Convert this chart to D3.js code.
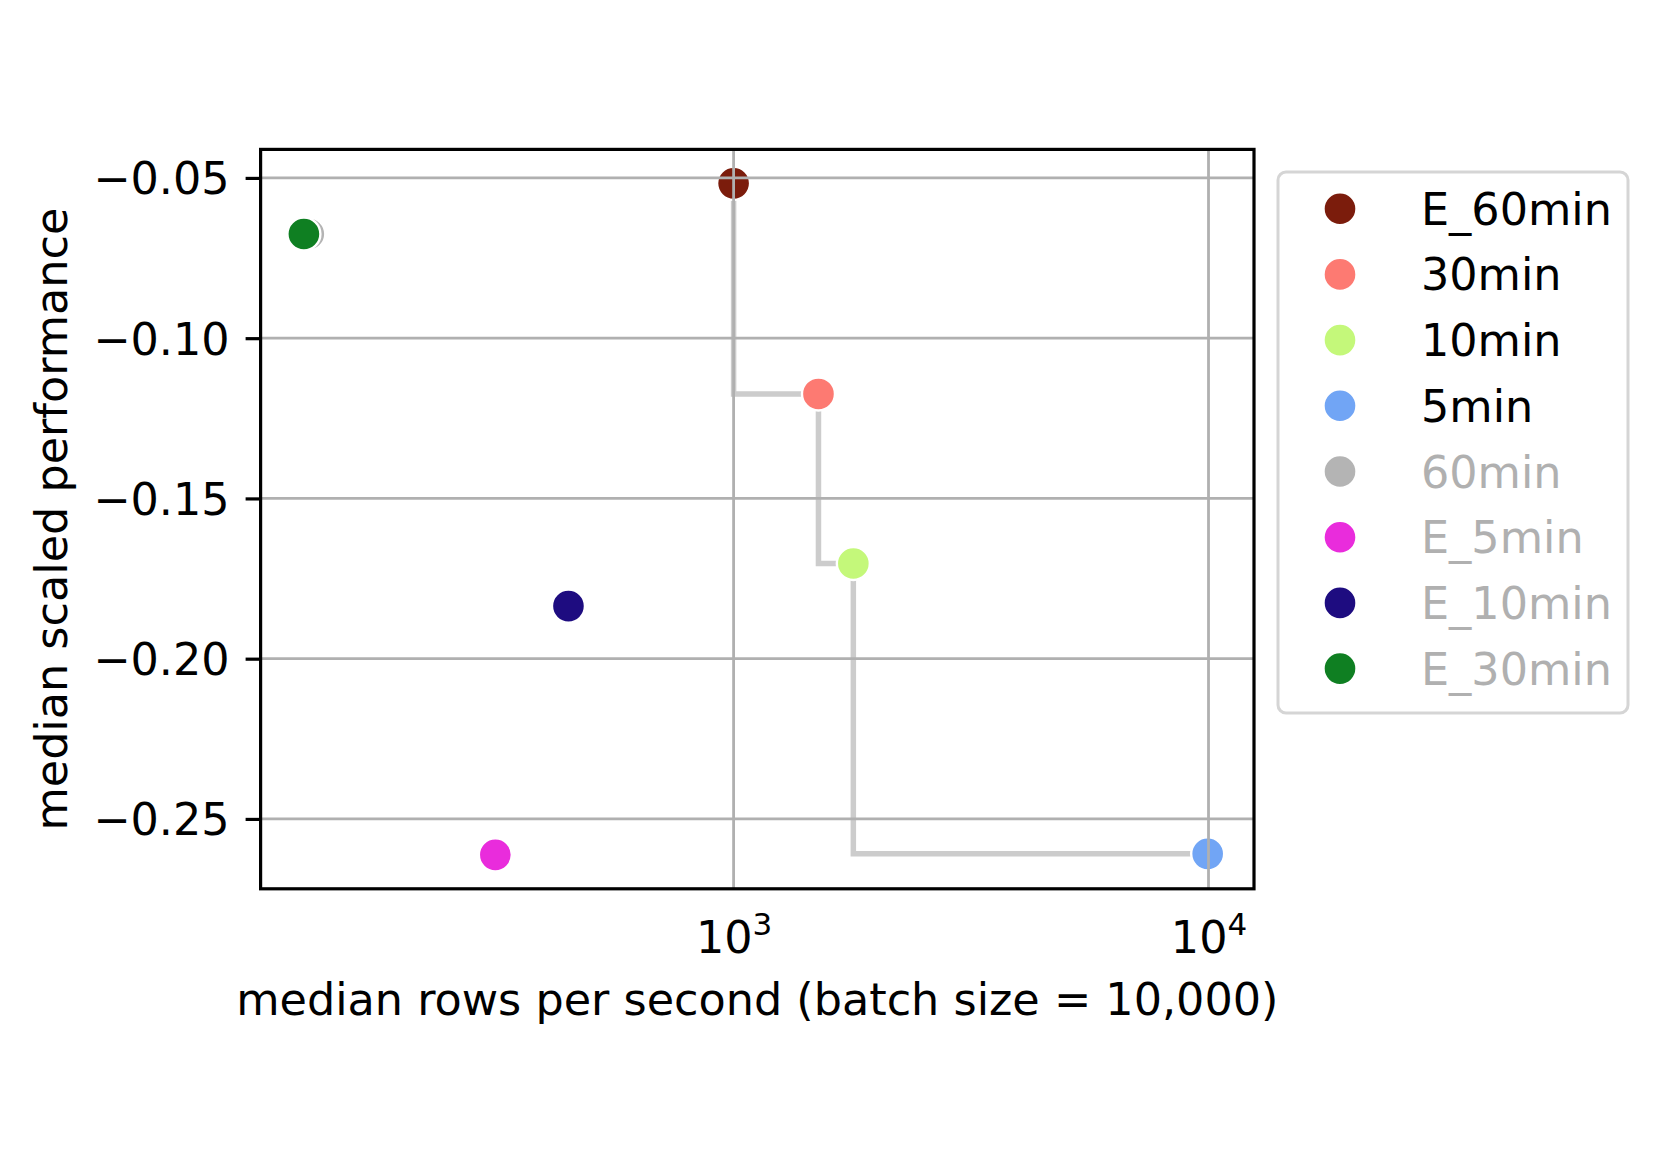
<!DOCTYPE html>
<html>
<head>
<meta charset="utf-8">
<script src="https://cdn.jsdelivr.net/npm/d3@7"></script>
<style>
  html, body { margin: 0; padding: 0; background: #fff; }
  svg text { font-family: "DejaVu Sans", sans-serif; }
</style>
</head>
<body>
<svg id="chart" width="1661" height="1174"></svg>
<script>
// ---- data ----
const labels = ["E_60min", "30min", "10min", "5min", "60min", "E_5min", "E_10min", "E_30min"];
const rowsPerSecond = [1000, 1509, 1787, 9960, 127.5, 315, 449, 124.5];
const scaledPerf = [-0.0517, -0.1174, -0.1703, -0.2609, -0.0675, -0.2612, -0.1836, -0.0675];
const colors = ["#7b1c0c", "#fd7a72", "#c4f87a", "#71a5f5", "#b4b4b4", "#e92cdc", "#1e0c80", "#0f7f22"];
const highlighted = [true, true, true, true, false, false, false, false];
const frontier = ["E_60min", "30min", "10min", "5min"];
const yTicks = [-0.05, -0.10, -0.15, -0.20, -0.25];
const xTicks = [1000, 10000];
const xTickExp = ["3", "4"];

// ---- layout ----
const svg = d3.select("#chart");
const L = 260.6, R = 1254, T = 149.4, B = 888.8;
const FS = 44.5;

const x = d3.scaleLog().domain([Math.pow(10, 2.004), Math.pow(10, 4.0958)]).range([L, R]);
const y = d3.scaleLinear().domain([-0.0411, -0.2718]).range([T, B]);

const pts = labels.map((l, i) => ({label: l, x: rowsPerSecond[i], y: scaledPerf[i], c: colors[i], on: highlighted[i]}));

// step line (pareto frontier)
const fr = frontier.map(f => pts.find(p => p.label === f));
const line = d3.line().x(d => x(d.x)).y(d => y(d.y)).curve(d3.curveStepBefore);
svg.append("path").attr("d", line(fr))
  .attr("fill", "none").attr("stroke", "#cccccc").attr("stroke-width", 5.5);

// points
svg.append("g").selectAll("circle").data(pts).join("circle")
  .attr("cx", d => x(d.x)).attr("cy", d => y(d.y)).attr("r", 16.5)
  .attr("fill", d => d.c).attr("stroke", "#fff").attr("stroke-width", 2.4);

// grid (drawn above markers)
const grid = svg.append("g");
grid.selectAll("line.gy").data(yTicks).join("line")
  .attr("x1", L).attr("x2", R).attr("y1", d => y(d)).attr("y2", d => y(d))
  .attr("stroke", "#b0b0b0").attr("stroke-width", 2.8);
grid.selectAll("line.gx").data(xTicks).join("line")
  .attr("y1", T).attr("y2", B).attr("x1", d => x(d)).attr("x2", d => x(d))
  .attr("stroke", "#b0b0b0").attr("stroke-width", 2.8);

// y axis
const yAxis = d3.axisLeft(y).tickValues(yTicks).tickSize(15).tickPadding(16)
  .tickFormat(d => d3.format(".2f")(d).replace("-", "\u2212"));
const gy = svg.append("g").attr("transform", `translate(${L},0)`).call(yAxis);
gy.select(".domain").remove();
gy.selectAll(".tick line").attr("stroke", "#000").attr("stroke-width", 3.2);
gy.selectAll(".tick text").attr("font-size", FS).attr("fill", "#000")
  .attr("font-family", "DejaVu Sans").attr("dy", "0.36em");

// x axis labels (log, mathtext-like)
const xAxis = d3.axisBottom(x).tickValues(xTicks).tickSize(0).tickFormat("");
const gx = svg.append("g").attr("transform", `translate(0,${B})`).call(xAxis);
gx.select(".domain").remove();
gx.selectAll(".tick").each(function(d, i) {
  const t = d3.select(this).append("text")
    .attr("y", 64).attr("text-anchor", "middle").attr("fill", "#000")
    .attr("font-size", FS).attr("font-family", "DejaVu Sans");
  t.append("tspan").text("10");
  t.append("tspan").attr("dy", -18).attr("font-size", 31).text(xTickExp[i]);
});

// spines
svg.append("rect").attr("x", L).attr("y", T).attr("width", R - L).attr("height", B - T)
  .attr("fill", "none").attr("stroke", "#000").attr("stroke-width", 3.2);

// axis titles
svg.append("text").attr("x", (L + R) / 2).attr("y", 1015).attr("text-anchor", "middle")
  .attr("font-size", FS).attr("fill", "#000")
  .text("median rows per second (batch size = 10,000)");
svg.append("text").attr("transform", `translate(67,${(T + B) / 2}) rotate(-90)`)
  .attr("text-anchor", "middle").attr("font-size", FS).attr("fill", "#000")
  .text("median scaled performance");

// legend
const lg = svg.append("g");
lg.append("rect").attr("x", 1278).attr("y", 172).attr("width", 350).attr("height", 541)
  .attr("rx", 8).attr("fill", "#fff").attr("stroke", "#d5d5d5").attr("stroke-width", 3);
const items = lg.selectAll("g.item").data(pts).join("g")
  .attr("transform", (d, i) => `translate(0,${208.7 + i * 65.7})`);
items.append("circle").attr("cx", 1340).attr("cy", 0).attr("r", 16.5)
  .attr("fill", d => d.c).attr("stroke", "#fff").attr("stroke-width", 2.4);
items.append("text").attr("x", 1421).attr("y", 0).attr("dy", "0.36em")
  .attr("font-size", FS).attr("fill", d => d.on ? "#000" : "#b0b0b0")
  .text(d => d.label);
</script>
</body>
</html>
